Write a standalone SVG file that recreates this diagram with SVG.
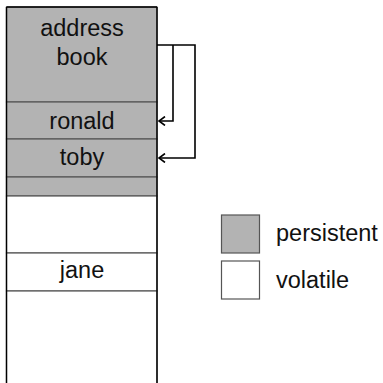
<svg xmlns="http://www.w3.org/2000/svg" width="383" height="383" viewBox="0 0 383 383">
<style>
.p{fill:#b3b3b3;stroke:#555;stroke-width:1.2}
.v{fill:#fff;stroke:#555;stroke-width:1.2}
.t{font-family:"Liberation Sans",Arial,sans-serif;font-size:23.5px;fill:#111;text-anchor:middle}
.l{font-family:"Liberation Sans",Arial,sans-serif;font-size:23.5px;fill:#111}
.c{fill:none;stroke:#000;stroke-width:1.6}
</style>
<defs>
<marker id="ah" viewBox="0 0 10 10" refX="9" refY="5" markerWidth="10" markerHeight="10" markerUnits="userSpaceOnUse" orient="auto">
<path d="M3,0.5 L9,5 L3,9.5" fill="none" stroke="#000" stroke-width="1.6"/>
</marker>
</defs>
<g id="address-book"><rect class="p" x="6.5" y="7" width="150.5" height="95"/><text class="t" x="82" y="36">address</text><text class="t" x="82" y="65">book</text></g>
<g id="ronald"><rect class="p" x="6.5" y="102" width="150.5" height="37"/><text class="t" x="82" y="129">ronald</text></g>
<g id="toby"><rect class="p" x="6.5" y="139" width="150.5" height="38"/><text class="t" x="82" y="165">toby</text></g>
<g id="gray-slot"><rect class="p" x="6.5" y="177" width="150.5" height="19"/></g>
<g id="volatile-slot"><rect class="v" x="6.5" y="196" width="150.5" height="57"/></g>
<g id="jane"><rect class="v" x="6.5" y="253" width="150.5" height="38"/><text class="t" x="82" y="278">jane</text></g>
<g id="volatile-rest"><rect class="v" x="6.5" y="291" width="150.5" height="100"/></g>
<path d="M6.5,7 V383 M157,7 V383 M6.5,7 H157" fill="none" stroke="#000" stroke-width="1.4"/>
<g id="connectors">
<path class="c" d="M157,45 H195 V158 H159" marker-end="url(#ah)"/>
<path class="c" d="M173,45 V121 H159" marker-end="url(#ah)"/>
</g>
<g id="legend-persistent"><rect class="p" x="221.5" y="215" width="38" height="38"/><text class="l" x="276" y="241">persistent</text></g>
<g id="legend-volatile"><rect class="v" x="221.5" y="261" width="38" height="38"/><text class="l" x="276" y="288">volatile</text></g>
</svg>
